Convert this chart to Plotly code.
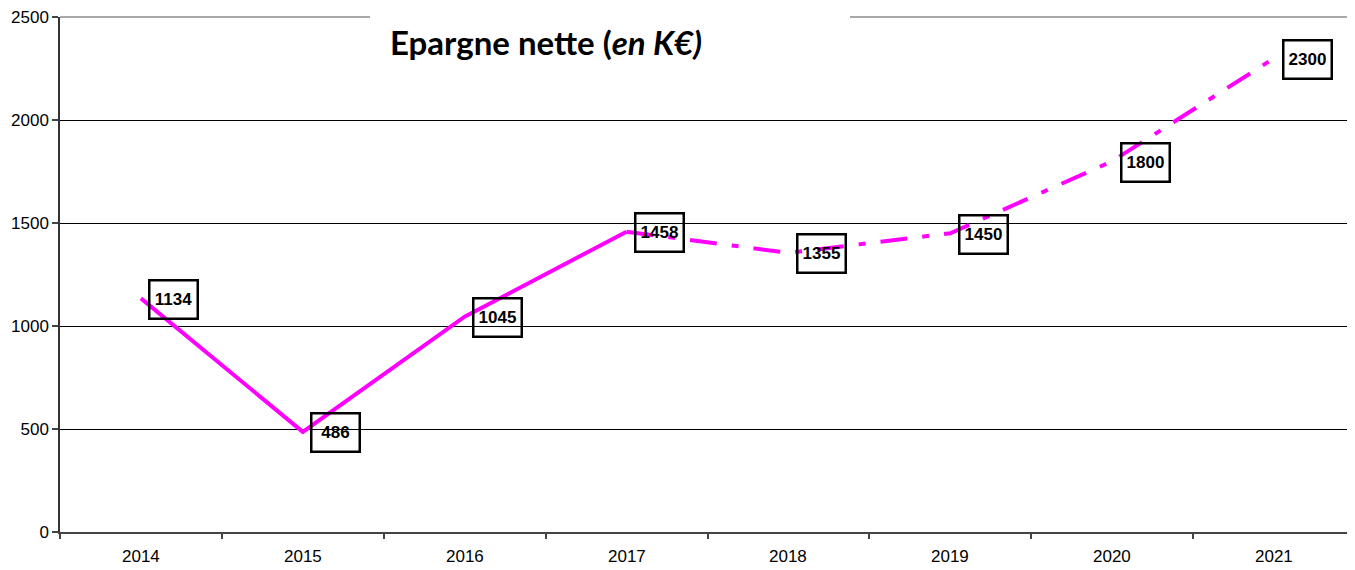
import plotly.graph_objects as go

years = ["2014", "2015", "2016", "2017", "2018", "2019", "2020", "2021"]
values = [1134, 486, 1045, 1458, 1355, 1450, 1800, 2300]
solid_idx = list(range(0, 4))
dash_idx = list(range(3, 8))
y_ticks = [0, 500, 1000, 1500, 2000, 2500]

MAGENTA = "#FF00FF"
OFF = 8  # page body margin
W, H = 1355 - OFF, 570 - OFF
L, R, T, B = 60 - OFF, 0, 15 - OFF, 38
pw = W - L - R
ph = H - T - B

def px_x(px):  # absolute page pixel -> paper x
    return (px - 60) / pw

def px_y(py):  # absolute page pixel -> paper y
    return (532 - py) / ph

fig = go.Figure()
fig.add_trace(go.Scatter(x=[years[i] for i in solid_idx], y=[values[i] for i in solid_idx],
                         mode="lines", line=dict(color=MAGENTA, width=4),
                         hoverinfo="skip", showlegend=False))
fig.add_trace(go.Scatter(x=[years[i] for i in dash_idx], y=[values[i] for i in dash_idx],
                         mode="lines",
                         line=dict(color=MAGENTA, width=4, dash="27px,15px,7px,15px"),
                         hoverinfo="skip", showlegend=False))

for i, v in enumerate(values):
    fig.add_annotation(x=i, y=v, xref="x", yref="y", text=f"<b>{v}</b>",
                       showarrow=False, xshift=33, yshift=-1,
                       font=dict(family="Liberation Sans, Arial", size=17, color="black"),
                       bordercolor="black", borderwidth=2.5, borderpad=1,
                       width=44, height=34, bgcolor="rgba(0,0,0,0)")

# category labels below the axis
for i, yr in enumerate(years):
    fig.add_annotation(x=i, y=0, xref="x", yref="paper", text=yr,
                       showarrow=False, yanchor="middle", yshift=-24,
                       font=dict(family="Liberation Sans, Arial", size=17, color="black"))

# top frame line (grey) with a white gap behind the title
fig.add_shape(type="line", xref="paper", yref="paper", x0=0, x1=1, y0=1, y1=1,
              line=dict(color="#8c8c8c", width=1.5), layer="above")
fig.add_shape(type="rect", xref="paper", yref="paper",
              x0=px_x(370), x1=px_x(850), y0=px_y(19), y1=px_y(10),
              fillcolor="white", line=dict(width=0), layer="above")

fig.add_annotation(xref="paper", yref="paper",
                   x=px_x(389), y=px_y(40), xanchor="left", yanchor="middle",
                   text="<b>Epargne nette (<i>en K€)</i></b>",
                   showarrow=False, align="left", borderpad=0,
                   font=dict(family="Lato, Open Sans", size=33, color="black"))

fig.update_layout(
    width=W, height=H,
    margin=dict(l=L, r=R, t=T, b=B, pad=0),
    paper_bgcolor="white", plot_bgcolor="white",
    xaxis=dict(type="category", categoryorder="array", categoryarray=years,
               range=[-0.5, 7.5], tickson="boundaries", ticks="outside", ticklen=5,
               tickcolor="#444", tickwidth=1.5, showticklabels=False,
               showline=True, linecolor="#444", linewidth=2, showgrid=False,
               zeroline=False, fixedrange=True),
    yaxis=dict(range=[0, 2500], tickvals=y_ticks, ticks="outside", ticklen=6,
               tickcolor="#444", tickwidth=1.5, ticklabeloverflow="allow",
               showline=True, linecolor="#333", linewidth=1.5,
               showgrid=True, gridcolor="black", gridwidth=1,
               zeroline=False,
               tickfont=dict(family="Liberation Sans, Arial", size=17, color="black"),
               fixedrange=True),
)

fig.write_html("out.html")
